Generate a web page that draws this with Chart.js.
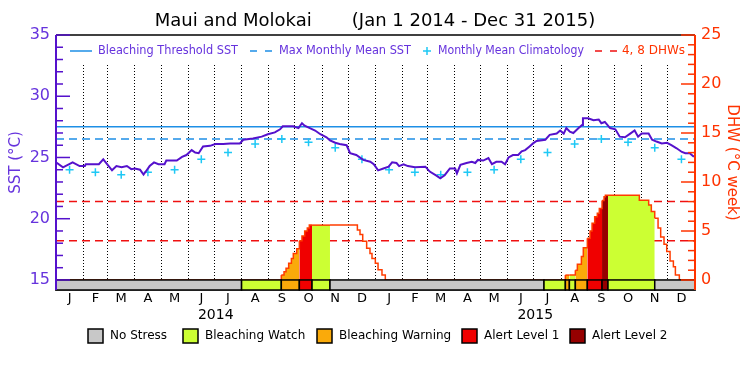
<!DOCTYPE html>
<html>
<head>
<meta charset="utf-8">
<script src="https://cdn.jsdelivr.net/npm/chart.js@4.4.1/dist/chart.umd.min.js"></script>
<style>
  html, body { margin: 0; padding: 0; background: #fff; }
</style>
</head>
<body>
<canvas id="chart" width="750" height="375"></canvas>
<script>
// calendar (2014 + 2015)
const monthLabels = ['J','F','M','A','M','J','J','A','S','O','N','D','J','F','M','A','M','J','J','A','S','O','N','D'];
const monthLengths = [31,28,31,30,31,30,31,31,30,31,30,31,31,28,31,30,31,30,31,31,30,31,30,31];
const yearLabels = ['2014', '2015'];

// axis labels
const sstTickLabels = [15, 20, 25, 30, 35];
const dhwTickLabels = [0, 5, 10, 15, 20, 25];

// reference levels
const bleachingThreshold = 27.5;
const maxMonthlyMean = 26.5;
const dhwLevels = [4, 8];

// monthly mean climatology (Jan..Dec)
const climatology = [24.0, 23.8, 23.6, 23.8, 24.0, 24.85, 25.4, 26.1, 26.5, 26.25, 25.8, 24.85];

// SST, day index from Jan 1 2014
const sstDays = [0, 8, 19, 27, 33, 34, 49, 54, 64, 69, 75, 81, 86, 90, 96, 100, 104, 107, 112, 117,
  124, 126, 138, 144, 149, 155, 159, 163, 168, 176, 182, 191, 199, 210, 214, 225, 235, 242, 250, 256,
  259, 271, 277, 281, 284, 290, 296, 302, 309, 313, 319, 324, 332, 336, 343, 351, 359, 363, 368, 374,
  380, 384, 389, 392, 397, 402, 410, 422, 427, 435, 439, 444, 450, 456, 458, 462, 469, 475, 479, 482,
  488, 494, 498, 503, 509, 513, 517, 522, 528, 532, 536, 541, 545, 549, 559, 564, 572, 576, 580, 583,
  587, 591, 597, 601, 602, 608, 614, 620, 623, 627, 633, 639, 644, 650, 656, 661, 665, 669, 677, 681,
  686, 692, 698, 703, 709, 715, 719, 724, 728, 730];
const sstValues = [24.6, 24.2, 24.6, 24.3, 24.3, 24.45, 24.45, 24.85, 23.95, 24.3, 24.2, 24.3, 24.05, 24.1, 24.0, 23.6, 24.0, 24.3, 24.6, 24.45,
  24.45, 24.75, 24.75, 25.05, 25.2, 25.6, 25.4, 25.35, 25.9, 25.95, 26.1, 26.1, 26.15, 26.15, 26.45, 26.55, 26.7, 26.9, 27.05, 27.3,
  27.55, 27.55, 27.4, 27.8, 27.6, 27.4, 27.2, 26.9, 26.65, 26.4, 26.2, 26.1, 26.0, 25.35, 25.2, 24.8, 24.65, 24.45, 23.95, 24.1,
  24.25, 24.6, 24.55, 24.3, 24.45, 24.3, 24.2, 24.25, 23.85, 23.5, 23.3, 23.55, 24.1, 24.1, 23.7, 24.4, 24.55, 24.65, 24.55, 24.8,
  24.75, 24.95, 24.45, 24.65, 24.65, 24.45, 25.0, 25.2, 25.2, 25.5, 25.6, 25.9, 26.15, 26.35, 26.45, 26.85, 26.95, 27.2, 26.95, 27.4,
  27.1, 27.0, 27.4, 27.65, 28.2, 28.2, 28.05, 28.1, 27.8, 27.9, 27.4, 27.3, 26.7, 26.65, 26.95, 27.2, 26.7, 26.95, 26.95, 26.45,
  26.3, 26.15, 26.2, 26.0, 25.75, 25.45, 25.35, 25.35, 25.1, 25.1];

// degree heating weeks (each value holds until the next day)
const dhwDays = [0, 257.4, 260.5, 262.8, 265.8, 268.9, 271.1, 275, 278, 281, 284.1, 287.1, 289.4, 292.5, 313,
  344.3, 347.3, 350.4, 354.9, 358.7, 361, 364.8, 367.9, 372.4, 376.2,
  581.9, 586.5, 593.3, 595.6, 600.2, 602.4, 607, 610.1, 612.4, 615.4, 618.4, 620.7, 623.8, 626.1, 627.6, 630.6,
  666.4, 677.1, 680.1, 684, 687.8, 690.8, 694.6, 697.7, 701.5, 705.3, 707.6, 712.1, 730];
const dhwValues = [0, 0.5, 0.85, 1.2, 1.7, 2.2, 2.7, 3.2, 4.0, 4.5, 5.0, 5.3, 5.6, 5.6, 5.6,
  5.1, 4.65, 3.95, 3.25, 2.7, 2.2, 1.7, 1.05, 0.5, 0,
  0.5, 0.5, 1.0, 1.6, 2.4, 3.3, 4.25, 5.0, 5.8, 6.45, 6.8, 7.3, 8.1, 8.5, 8.65, 8.65,
  8.15, 7.65, 7.0, 6.3, 5.3, 4.4, 3.65, 2.9, 1.95, 1.35, 0.5, 0, 0];

// bleaching alert level, from each start day to the next
const stressStart = [0, 212, 257.4, 278, 292.5, 313, 557.5, 581.9, 586.5, 593.3, 607, 623.8, 630.6, 684];
const stressLevel = [0, 1, 2, 3, 1, 0, 1, 2, 1, 2, 3, 4, 1, 0];
const stressNames = ['No Stress', 'Bleaching Watch', 'Bleaching Warning', 'Alert Level 1', 'Alert Level 2'];
const stressColors = ['#c8c8c8', '#ccff33', '#faaa0a', '#f00000', '#960000'];

// colours
const sstColor = '#5511cc';
const sstText = '#6633dd';
const dhwColor = '#ff3300';
const blue = '#1e8fe6';
const cyan = '#1ec8f5';
const red = '#f01010';
const FONT = 'DejaVu Sans';

// month positions
const monthStarts = [];
let total = 0;
monthLengths.forEach(n => { monthStarts.push(total); total += n; });
const monthMids = monthStarts.map((s, i) => s + monthLengths[i] / 2);
const yearMids = yearLabels.map((y, i) => (i + 0.5) * total / yearLabels.length);
const boundaries = new Set(monthStarts.slice(1));

function stressAt(day) {
    let lvl = 0;
    stressStart.forEach((s, i) => { if (day >= s) lvl = stressLevel[i]; });
    return lvl;
}

function line(ctx, x0, y0, x1, y1, color, w, dash) {
    ctx.beginPath();
    ctx.setLineDash(dash || []);
    ctx.strokeStyle = color;
    ctx.lineWidth = w;
    ctx.moveTo(x0, y0);
    ctx.lineTo(x1, y1);
    ctx.stroke();
    ctx.setLineDash([]);
}

// legend at top of plot
function drawTopLegend(ctx) {
    const y = 51;
    ctx.font = '12px "' + FONT + '"';
    ctx.textBaseline = 'middle';
    ctx.textAlign = 'left';

    line(ctx, 70, y, 92, y, blue, 1.5);
    ctx.fillStyle = sstText;
    ctx.fillText('Bleaching Threshold SST', 98, y, 140);

    line(ctx, 250, y, 272, y, blue, 1.5, [7, 8]);
    ctx.fillText('Max Monthly Mean SST', 279, y, 132);

    line(ctx, 423, y, 431, y, cyan, 1.5);
    line(ctx, 427, y - 4, 427, y + 4, cyan, 1.5);
    ctx.fillStyle = sstText;
    ctx.fillText('Monthly Mean Climatology', 438, y, 146);

    line(ctx, 595, y, 617, y, red, 1.5, [7, 8]);
    ctx.fillStyle = dhwColor;
    ctx.fillText('4, 8 DHWs', 622, y, 63);
}

// stress legend under the axis
function drawStressLegend(ctx) {
    const boxX = [88, 183, 317, 462, 570];
    ctx.font = '12px "' + FONT + '"';
    ctx.textBaseline = 'middle';
    ctx.textAlign = 'left';
    ctx.lineWidth = 1.5;
    stressNames.forEach((name, i) => {
        ctx.fillStyle = stressColors[i];
        ctx.fillRect(boxX[i], 329, 15, 14);
        ctx.strokeStyle = '#000';
        ctx.strokeRect(boxX[i], 329, 15, 14);
        ctx.fillStyle = '#000';
        ctx.fillText(name, boxX[i] + 22, 336);
    });
}

const overlay = {
    id: 'overlay',
    afterDraw(chart) {
        const { ctx, chartArea: a, scales } = chart;
        const x = scales.x, sst = scales.sst, dhw = scales.dhw;
        ctx.save();

        // month lines start below the legend
        ctx.fillStyle = '#fff';
        ctx.fillRect(a.left + 1, a.top, a.right - a.left - 2, 29);

        // stress bar below SST 15
        const top = sst.getPixelForValue(sstTickLabels[0]);
        ctx.lineWidth = 1.5;
        stressStart.forEach((s, i) => {
            const e = i + 1 < stressStart.length ? stressStart[i + 1] : total;
            const x0 = x.getPixelForValue(s), x1 = x.getPixelForValue(e);
            ctx.fillStyle = stressColors[stressLevel[i]];
            ctx.fillRect(x0, top, x1 - x0, a.bottom - top);
            ctx.strokeStyle = '#000';
            ctx.strokeRect(x0, top, x1 - x0, a.bottom - top);
        });

        line(ctx, a.left, a.top, a.right, a.top, '#000', 1.5);

        // axes with inward ticks
        line(ctx, a.left, a.top, a.left, a.bottom, sstColor, 2);
        sst.ticks.forEach(t => {
            const y = sst.getPixelForValue(t.value);
            line(ctx, a.left, y, a.left + (t.value % 5 ? 7 : 14), y, sstColor, 1.5);
        });
        line(ctx, a.right, a.top, a.right, a.bottom, dhwColor, 2);
        dhw.ticks.forEach(t => {
            const y = dhw.getPixelForValue(t.value);
            line(ctx, a.right, y, a.right - (t.value % 5 ? 7 : 14), y, dhwColor, 1.5);
        });

        drawTopLegend(ctx);
        drawStressLegend(ctx);
        ctx.restore();
    }
};

const pts = (xs, ys) => xs.map((v, i) => ({ x: v, y: ys[i] }));
const flat = v => [{ x: 0, y: v }, { x: total, y: v }];

new Chart(document.getElementById('chart'), {
    type: 'line',
    data: {
        datasets: [
            {
                label: 'SST',
                data: pts(sstDays, sstValues),
                yAxisID: 'sst',
                borderColor: sstColor,
                borderWidth: 2,
                pointRadius: 0,
                order: 0
            },
            {
                label: 'Monthly Mean Climatology',
                data: monthMids.map((m, i) => ({ x: m, y: climatology[i % 12] })),
                yAxisID: 'sst',
                showLine: false,
                pointStyle: 'cross',
                pointRadius: 4,
                pointBorderWidth: 1.5,
                borderColor: cyan,
                order: 1
            },
            {
                label: 'Bleaching Threshold SST',
                data: flat(bleachingThreshold),
                yAxisID: 'sst',
                borderColor: blue,
                borderWidth: 1.5,
                pointRadius: 0,
                order: 2
            },
            {
                label: 'Max Monthly Mean SST',
                data: flat(maxMonthlyMean),
                yAxisID: 'sst',
                borderColor: blue,
                borderWidth: 1.5,
                borderDash: [8, 5],
                pointRadius: 0,
                order: 2
            },
            {
                label: 'DHW',
                data: pts(dhwDays, dhwValues),
                yAxisID: 'dhw',
                stepped: true,
                borderColor: '#ff3c00',
                borderWidth: 1.5,
                pointRadius: 0,
                fill: 'origin',
                backgroundColor: 'rgba(0,0,0,0)',
                segment: {
                    backgroundColor: c => {
                        const lvl = stressAt(c.p0.parsed.x);
                        return lvl ? stressColors[lvl] : 'rgba(0,0,0,0)';
                    }
                },
                order: 3
            },
            ...dhwLevels.map(v => ({
                label: v + ' DHW',
                data: flat(v),
                yAxisID: 'dhw',
                borderColor: red,
                borderWidth: 1.5,
                borderDash: [8, 5],
                pointRadius: 0,
                order: 4
            }))
        ]
    },
    options: {
        responsive: false,
        animation: false,
        events: [],
        layout: { padding: { left: 0, right: 0, top: 0, bottom: 51 } },
        plugins: {
            legend: { display: false },
            tooltip: { enabled: false },
            title: {
                display: true,
                text: 'Maui and Molokai       (Jan 1 2014 - Dec 31 2015)',
                color: '#000',
                font: { family: FONT, size: 18, weight: 'normal' },
                padding: { top: 11, bottom: 2.4 }
            }
        },
        scales: {
            x: {
                type: 'linear',
                min: 0,
                max: total,
                position: 'bottom',
                z: 1,
                afterBuildTicks: s => {
                    s.ticks = [...monthStarts.slice(1), ...monthMids].sort((p, q) => p - q).map(v => ({ value: v }));
                },
                afterFit: s => { s.height = 16; },
                ticks: {
                    autoSkip: false,
                    maxRotation: 0,
                    padding: 1,
                    color: '#000',
                    font: { family: FONT, size: 13 },
                    callback: v => {
                        const i = monthMids.indexOf(v);
                        return i >= 0 ? monthLabels[i] : '';
                    }
                },
                grid: {
                    drawTicks: false,
                    lineWidth: 1,
                    color: c => (c.tick && boundaries.has(c.tick.value)) ? '#000' : 'rgba(0,0,0,0)'
                },
                border: { color: '#000', width: 1.5, dash: [1, 2] }
            },
            year: {
                type: 'linear',
                min: 0,
                max: total,
                position: 'bottom',
                weight: 1,
                afterBuildTicks: s => { s.ticks = yearMids.map(v => ({ value: v })); },
                afterFit: s => { s.height = 18; },
                ticks: {
                    autoSkip: false,
                    maxRotation: 0,
                    padding: 1,
                    color: '#000',
                    font: { family: FONT, size: 14 },
                    callback: v => yearLabels[yearMids.indexOf(v)] || ''
                },
                grid: { display: false, drawTicks: false },
                border: { display: false }
            },
            sst: {
                type: 'linear',
                position: 'left',
                min: 14.18,
                max: 35,
                afterBuildTicks: s => {
                    s.ticks = [];
                    for (let v = sstTickLabels[0]; v <= sstTickLabels[sstTickLabels.length - 1]; v++) s.ticks.push({ value: v });
                },
                afterFit: s => { s.width = 56; },
                ticks: {
                    autoSkip: false,
                    padding: 6,
                    color: sstText,
                    font: { family: FONT, size: 16 },
                    callback: v => sstTickLabels.includes(v) ? String(v) : ''
                },
                grid: { display: false, drawTicks: false },
                border: { display: false },
                title: {
                    display: true,
                    text: 'SST (°C)',
                    color: sstText,
                    font: { family: FONT, size: 15 },
                    padding: { top: 7, bottom: 0 }
                }
            },
            dhw: {
                type: 'linear',
                position: 'right',
                min: -1.02,
                max: 25,
                afterBuildTicks: s => {
                    s.ticks = [];
                    for (let v = dhwTickLabels[0]; v <= dhwTickLabels[dhwTickLabels.length - 1]; v++) s.ticks.push({ value: v });
                },
                afterFit: s => { s.width = 55; },
                ticks: {
                    autoSkip: false,
                    padding: 6,
                    color: dhwColor,
                    font: { family: FONT, size: 16 },
                    callback: v => dhwTickLabels.includes(v) ? String(v) : ''
                },
                grid: { display: false, drawTicks: false },
                border: { display: false },
                title: {
                    display: true,
                    text: 'DHW (°C week)',
                    color: dhwColor,
                    font: { family: FONT, size: 15 },
                    padding: { top: 9, bottom: 0 }
                }
            }
        }
    },
    plugins: [overlay]
});
</script>
</body>
</html>
